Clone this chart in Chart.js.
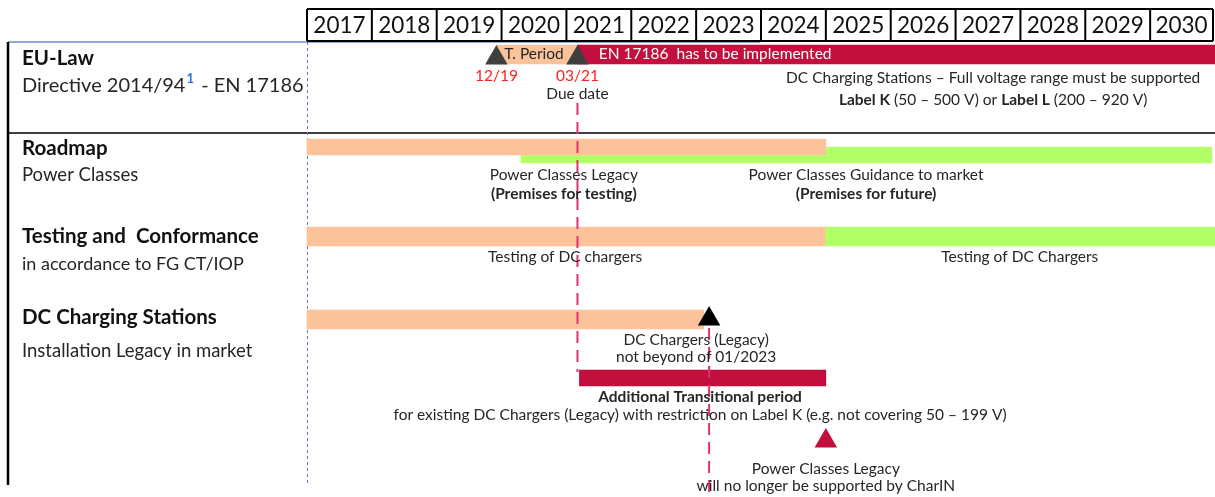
<!DOCTYPE html>
<html>
<head>
<meta charset="utf-8">
<script src="https://cdn.jsdelivr.net/npm/chart.js@4.4.1/dist/chart.umd.min.js"></script>
<style>
  html, body { margin: 0; padding: 0; background: #fff; overflow: hidden; }
  #roadmap { display: block; }
</style>
</head>
<body>
<canvas id="roadmap" width="1215" height="497"></canvas>
<script>
// timeline data (years as decimals)
const years = [2017, 2018, 2019, 2020, 2021, 2022, 2023, 2024, 2025, 2026, 2027, 2028, 2029, 2030];
const lawPeriod = [2019.92, 2021.17];
const lawImplemented = [2021.17, 2031];
const lawMilestones = [2019.92, 2021.17];
const lawMilestoneLabels = ["12/19", "03/21"];
const roadmapLegacy = [2017, 2025];
const roadmapGuidance = [2020.3, 2030.95];
const testingLegacy = [2017, 2025];
const testingNew = [2025, 2031];
const installLegacy = [2017, 2023.12];
const installEnd = 2023.2;
const transitional = [2021.2, 2025];
const supportEnd = 2025;

// vertical lanes (units of the hidden y scale)
const lane = {
  law: 12.5, lawMark: 16, legacy: 105, guidance: 113, testing: 194.5,
  install: 277.5, installMark: 277, transitional: 336, supportMark: 399
};

const ORANGE = "#FCC39B";
const GREEN = "#B2FF66";
const RED = "#C20F3E";
const DASH = "#E0336A";
const TXT = "#262626";
const FONT = "Lato, 'Open Sans', sans-serif";
const NS = 15.5;

const notes = [
  {x: 2020.5, y: 12, t: [["T. Period"]]},
  {x: 2021.5, y: 12, t: [["EN 17186  has to be implemented"]], color: "#fff", align: "left"},
  {x: lawMilestones[0], y: 34, t: [[lawMilestoneLabels[0]]], color: "#FF2020"},
  {x: lawMilestones[1], y: 34, t: [[lawMilestoneLabels[1]]], color: "#FF2020"},
  {x: 2021.17, y: 52, t: [["Due date"]]},
  {x: 2027.58, y: 36, t: [["DC Charging Stations \u2013 Full voltage range must be supported"]]},
  {x: 2027.58, y: 58, t: [["Label K", 1], [" (50 \u2013 500 V) or "], ["Label L", 1], [" (200 \u2013 920 V)"]]},
  {x: 2020.96, y: 133, t: [["Power Classes Legacy"]]},
  {x: 2020.96, y: 152, t: [["(Premises for testing)", 1]]},
  {x: 2025.62, y: 133, t: [["Power Classes Guidance to market"]]},
  {x: 2025.62, y: 152, t: [["(Premises for future)", 1]]},
  {x: 2020.98, y: 215, t: [["Testing of DC chargers"]]},
  {x: 2027.99, y: 215, t: [["Testing of DC Chargers"]]},
  {x: 2023.0, y: 298, t: [["DC Chargers (Legacy)"]]},
  {x: 2023.0, y: 315, t: [["not beyond of 01/2023"]]},
  {x: 2023.06, y: 355, t: [["Additional Transitional period", 1]]},
  {x: 2023.06, y: 373, t: [["for existing DC Chargers (Legacy) with restriction on Label K (e.g. not covering 50 \u2013 199 V)"]]},
  {x: 2025.0, y: 427, t: [["Power Classes Legacy"]]},
  {x: 2025.0, y: 444, t: [["will no longer be supported by CharIN"]]}
];

const sideLabels = [
  {y: 58, t: "EU-Law", bold: true, size: 20.5},
  {y: 148, t: "Roadmap", bold: true, size: 20.5},
  {y: 175, t: "Power Classes", size: 18.5},
  {y: 236, t: "Testing and  Conformance", bold: true, size: 20.5},
  {y: 264, t: "in accordance to FG CT/IOP", size: 18},
  {y: 317, t: "DC Charging Stations", bold: true, size: 20.5},
  {y: 351, t: "Installation Legacy in market", size: 18.5}
];

function drawRuns(ctx, runs, x, y, size, color, align) {
  let w = 0;
  runs.forEach(r => {
    ctx.font = (r[1] ? "bold " : "") + size + "px " + FONT;
    w += ctx.measureText(r[0]).width;
  });
  let cx = align === "left" ? x : x - w / 2;
  ctx.fillStyle = color || TXT;
  ctx.textAlign = "left";
  ctx.textBaseline = "middle";
  runs.forEach(r => {
    ctx.font = (r[1] ? "bold " : "") + size + "px " + FONT;
    ctx.fillText(r[0], cx, y);
    cx += ctx.measureText(r[0]).width;
  });
}

const framePlugin = {
  id: "frame",
  beforeDatasetsDraw(chart) {
    const {ctx, scales: {x, y}, chartArea} = chart;
    ctx.save();
    // top rule
    ctx.strokeStyle = "#8FA9D6";
    ctx.lineWidth = 2;
    ctx.beginPath(); ctx.moveTo(8, chartArea.top); ctx.lineTo(760, chartArea.top); ctx.stroke();
    // left rule
    ctx.strokeStyle = "#000";
    ctx.lineWidth = 2.5;
    ctx.beginPath(); ctx.moveTo(8, chartArea.top); ctx.lineTo(8, 485); ctx.stroke();
    // section separator
    ctx.lineWidth = 1.5;
    ctx.beginPath(); ctx.moveTo(8, 133); ctx.lineTo(chartArea.right, 133); ctx.stroke();
    // dashed start line
    ctx.strokeStyle = "#5B7FC0";
    ctx.lineWidth = 1;
    ctx.setLineDash([3, 3]);
    const x0 = x.getPixelForValue(years[0]);
    ctx.beginPath(); ctx.moveTo(x0 + 0.5, chartArea.top); ctx.lineTo(x0 + 0.5, 485); ctx.stroke();
    ctx.setLineDash([]);
    // year header
    ctx.strokeStyle = "#000";
    ctx.lineWidth = 2;
    const top = 9, bot = 41;
    const xe = x.getPixelForValue(years[years.length - 1] + 1) - 2;
    ctx.beginPath(); ctx.moveTo(x0, top); ctx.lineTo(xe, top); ctx.stroke();
    ctx.beginPath(); ctx.moveTo(x0, bot); ctx.lineTo(xe, bot); ctx.stroke();
    ctx.font = "22.5px " + FONT;
    ctx.fillStyle = "#111";
    ctx.textAlign = "center";
    ctx.textBaseline = "middle";
    years.forEach((yr, i) => {
      const a = x.getPixelForValue(yr);
      const b = i === years.length - 1 ? xe : x.getPixelForValue(yr + 1);
      ctx.beginPath(); ctx.moveTo(a, top); ctx.lineTo(a, bot); ctx.stroke();
      ctx.fillText(String(yr), (a + b) / 2, (top + bot) / 2 + 1);
    });
    ctx.beginPath(); ctx.moveTo(xe, top); ctx.lineTo(xe, bot); ctx.stroke();
    // side labels
    ctx.textBaseline = "middle";
    sideLabels.forEach(l => {
      ctx.font = (l.bold ? "bold " : "") + l.size + "px " + FONT;
      ctx.fillStyle = l.bold ? "#111" : TXT;
      ctx.textAlign = "left";
      ctx.fillText(l.t, 22, l.y);
    });
    // directive line with superscript
    ctx.font = "20px " + FONT;
    ctx.fillStyle = TXT;
    const p1 = "Directive 2014/94";
    ctx.fillText(p1, 22, 86);
    let cx = 22 + ctx.measureText(p1).width + 1;
    ctx.font = "bold 13px " + FONT;
    ctx.fillStyle = "#2F6FE0";
    ctx.fillText("1", cx, 79);
    cx += ctx.measureText("1").width + 2;
    ctx.font = "20px " + FONT;
    ctx.fillStyle = TXT;
    ctx.fillText(" - EN 17186", cx, 86);
    ctx.restore();
  },
  afterDatasetsDraw(chart) {
    const {ctx, scales: {x, y}} = chart;
    ctx.save();
    notes.forEach(n => drawRuns(ctx, n.t, x.getPixelForValue(n.x), y.getPixelForValue(n.y), NS, n.color, n.align));
    ctx.restore();
  }
};

function bar(label, items, thickness, order) {
  return {
    type: "bar", label, indexAxis: "y", grouped: false, order,
    barThickness: thickness,
    data: items.map(it => ({x: it.range, y: it.lane})),
    backgroundColor: items.map(it => it.color),
    borderWidth: 0, borderSkipped: false
  };
}

function marker(label, xs, yv, color) {
  return {
    type: "scatter", label, order: 0,
    data: xs.map(v => ({x: v, y: yv})),
    pointStyle: "triangle", pointRadius: 13, pointHoverRadius: 13,
    backgroundColor: color, borderWidth: 0
  };
}

function dashed(label, xv, y0, y1) {
  return {
    type: "line", label, order: 1,
    data: [{x: xv, y: y0}, {x: xv, y: y1}],
    borderColor: DASH, borderWidth: 2, borderDash: [12, 7],
    pointRadius: 0, fill: false
  };
}

new Chart(document.getElementById("roadmap"), {
  type: "bar",
  data: {
    datasets: [
      marker("Law milestones", lawMilestones, lane.lawMark, "#3F3F3F"),
      marker("Legacy install end", [installEnd], lane.installMark, "#000"),
      marker("Legacy support end", [supportEnd], lane.supportMark, RED),
      dashed("Due date", lawMilestones[1], 61, 330),
      dashed("Legacy end", installEnd, 286, 455),
      bar("EU-Law", [
        {range: lawPeriod, lane: lane.law, color: ORANGE},
        {range: lawImplemented, lane: lane.law, color: RED}
      ], 19, 2),
      bar("Roadmap legacy", [{range: roadmapLegacy, lane: lane.legacy, color: ORANGE}], 16, 3),
      bar("Roadmap guidance", [{range: roadmapGuidance, lane: lane.guidance, color: GREEN}], 16, 4),
      bar("Testing", [
        {range: testingLegacy, lane: lane.testing, color: ORANGE},
        {range: testingNew, lane: lane.testing, color: GREEN}
      ], 19, 5),
      bar("Installation", [{range: installLegacy, lane: lane.install, color: ORANGE}], 19, 6),
      bar("Transitional", [{range: transitional, lane: lane.transitional, color: RED}], 16, 7)
    ]
  },
  options: {
    responsive: false,
    animation: false,
    clip: false,
    layout: {autoPadding: false, padding: {left: 307, right: 0, top: 42, bottom: 0}},
    scales: {
      x: {type: "linear", min: 2017, max: 2031, offset: false, grace: 0, display: false},
      y: {type: "linear", min: 0, max: 455, reverse: true, offset: false, grace: 0, display: false}
    },
    plugins: {legend: {display: false}, tooltip: {enabled: false}}
  },
  plugins: [framePlugin]
});
</script>
</body>
</html>
